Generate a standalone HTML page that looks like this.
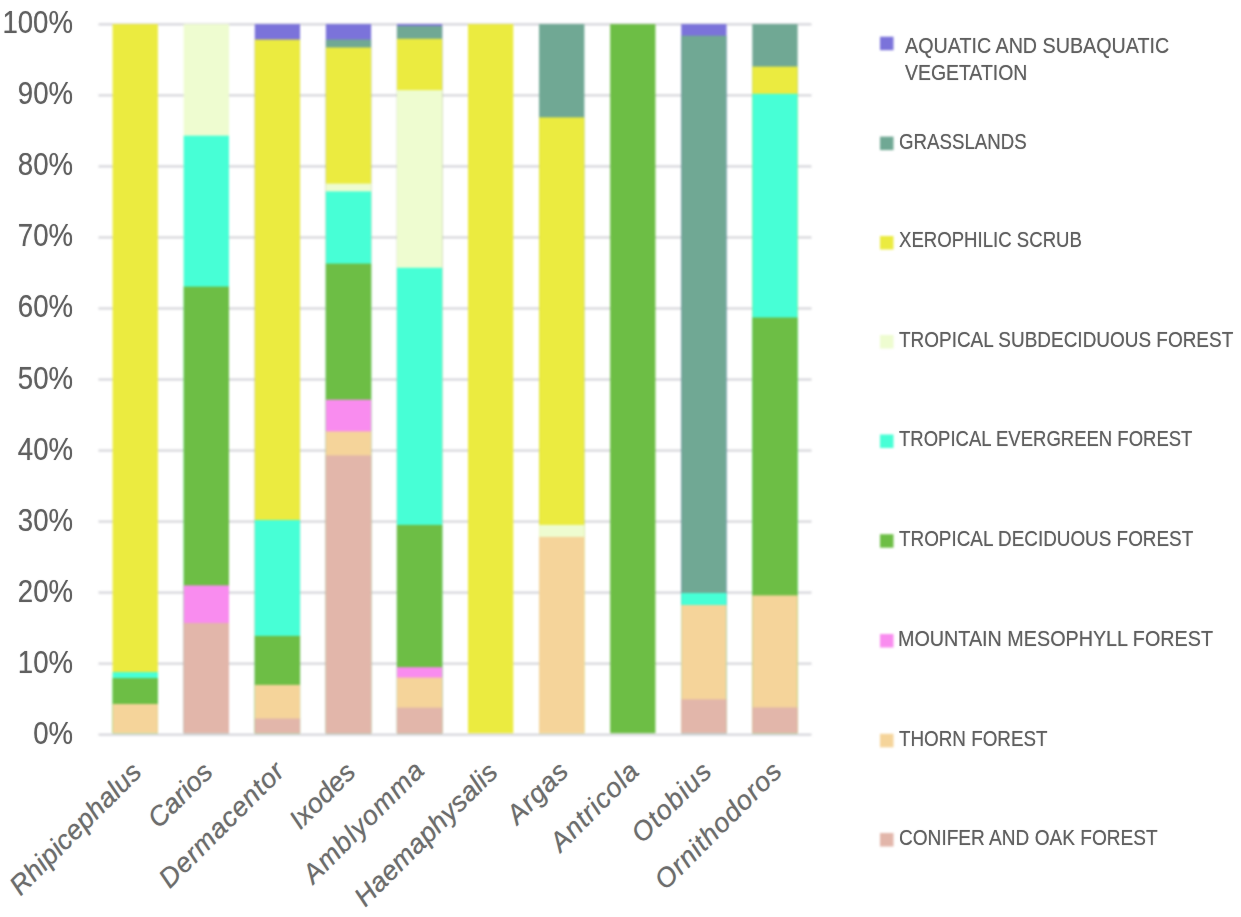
<!DOCTYPE html>
<html lang="en"><head><meta charset="utf-8"><title>Habitat distribution of tick genera</title>
<style>
html,body{margin:0;padding:0;background:#fff;}
body{width:1241px;height:917px;position:relative;overflow:hidden;font-family:"Liberation Sans",sans-serif;color:#606060;}
#sh{position:absolute;left:0;top:0;width:1241px;height:917px;filter:blur(1px);}
#tx{position:absolute;left:0;top:0;width:1241px;height:917px;}
.t{text-shadow:0 0 1px rgba(96,96,96,.6);}
.yl{position:absolute;right:1168px;font-size:30.5px;line-height:28px;white-space:nowrap;transform-origin:100% 50%;transform:scaleX(0.905);color:#606060;}
.xl{position:absolute;font-style:italic;font-size:27px;line-height:27px;white-space:nowrap;transform-origin:100% 0;transform:rotate(-45deg);color:#6c6c6c;}
.lt{position:absolute;font-size:22.5px;line-height:27px;white-space:nowrap;transform-origin:0 0;color:#606060;}
</style></head><body>
<svg id="sh" width="1241" height="917" viewBox="0 0 1241 917">
<rect x="98.5" y="23.35" width="713" height="2" fill="#d2d2d7"/>
<rect x="98.5" y="94.38" width="713" height="2" fill="#d2d2d7"/>
<rect x="98.5" y="165.41" width="713" height="2" fill="#d2d2d7"/>
<rect x="98.5" y="236.44" width="713" height="2" fill="#d2d2d7"/>
<rect x="98.5" y="307.47" width="713" height="2" fill="#d2d2d7"/>
<rect x="98.5" y="378.5" width="713" height="2" fill="#d2d2d7"/>
<rect x="98.5" y="449.53" width="713" height="2" fill="#d2d2d7"/>
<rect x="98.5" y="520.56" width="713" height="2" fill="#d2d2d7"/>
<rect x="98.5" y="591.59" width="713" height="2" fill="#d2d2d7"/>
<rect x="98.5" y="662.62" width="713" height="2" fill="#d2d2d7"/>
<rect x="98.5" y="733.65" width="713" height="2" fill="#d2d2d7"/>
<rect x="112.6" y="24.1" width="45.3" height="709.1" fill="#ebeb40"/>
<rect x="112.6" y="672.1" width="45.3" height="61.1" fill="#47ffd6"/>
<rect x="112.6" y="678.1" width="45.3" height="55.1" fill="#6dbe45"/>
<rect x="112.6" y="704" width="45.3" height="29.2" fill="#f5d49a"/>
<rect x="183.68" y="24.1" width="45.3" height="709.1" fill="#eefcd0"/>
<rect x="183.68" y="135.7" width="45.3" height="597.5" fill="#47ffd6"/>
<rect x="183.68" y="286.6" width="45.3" height="446.6" fill="#6dbe45"/>
<rect x="183.68" y="585.4" width="45.3" height="147.8" fill="#f98cef"/>
<rect x="183.68" y="623" width="45.3" height="110.2" fill="#e2b6aa"/>
<rect x="254.76" y="24.1" width="45.3" height="709.1" fill="#7b73da"/>
<rect x="254.76" y="39.6" width="45.3" height="693.6" fill="#ebeb40"/>
<rect x="254.76" y="520" width="45.3" height="213.2" fill="#47ffd6"/>
<rect x="254.76" y="635.9" width="45.3" height="97.3" fill="#6dbe45"/>
<rect x="254.76" y="684.9" width="45.3" height="48.3" fill="#f5d49a"/>
<rect x="254.76" y="718.5" width="45.3" height="14.7" fill="#e2b6aa"/>
<rect x="325.84" y="24.1" width="45.3" height="709.1" fill="#7b73da"/>
<rect x="325.84" y="39.6" width="45.3" height="693.6" fill="#70a894"/>
<rect x="325.84" y="47.5" width="45.3" height="685.7" fill="#ebeb40"/>
<rect x="325.84" y="183.6" width="45.3" height="549.6" fill="#eefcd0"/>
<rect x="325.84" y="191.4" width="45.3" height="541.8" fill="#47ffd6"/>
<rect x="325.84" y="263.6" width="45.3" height="469.6" fill="#6dbe45"/>
<rect x="325.84" y="399.7" width="45.3" height="333.5" fill="#f98cef"/>
<rect x="325.84" y="431.4" width="45.3" height="301.8" fill="#f5d49a"/>
<rect x="325.84" y="455.4" width="45.3" height="277.8" fill="#e2b6aa"/>
<rect x="396.92" y="24.1" width="45.3" height="709.1" fill="#7b73da"/>
<rect x="396.92" y="26" width="45.3" height="707.2" fill="#70a894"/>
<rect x="396.92" y="38.8" width="45.3" height="694.4" fill="#ebeb40"/>
<rect x="396.92" y="90.1" width="45.3" height="643.1" fill="#eefcd0"/>
<rect x="396.92" y="267.8" width="45.3" height="465.4" fill="#47ffd6"/>
<rect x="396.92" y="524.9" width="45.3" height="208.3" fill="#6dbe45"/>
<rect x="396.92" y="667.2" width="45.3" height="66" fill="#f98cef"/>
<rect x="396.92" y="677.6" width="45.3" height="55.6" fill="#f5d49a"/>
<rect x="396.92" y="707.6" width="45.3" height="25.6" fill="#e2b6aa"/>
<rect x="468" y="24.1" width="45.3" height="709.1" fill="#ebeb40"/>
<rect x="539.08" y="24.1" width="45.3" height="709.1" fill="#70a894"/>
<rect x="539.08" y="117.4" width="45.3" height="615.8" fill="#ebeb40"/>
<rect x="539.08" y="524.9" width="45.3" height="208.3" fill="#eefcd0"/>
<rect x="539.08" y="536.9" width="45.3" height="196.3" fill="#f5d49a"/>
<rect x="610.16" y="24.1" width="45.3" height="709.1" fill="#6dbe45"/>
<rect x="681.24" y="24.1" width="45.3" height="709.1" fill="#7b73da"/>
<rect x="681.24" y="35.7" width="45.3" height="697.5" fill="#70a894"/>
<rect x="681.24" y="593" width="45.3" height="140.2" fill="#47ffd6"/>
<rect x="681.24" y="605" width="45.3" height="128.2" fill="#f5d49a"/>
<rect x="681.24" y="699.3" width="45.3" height="33.9" fill="#e2b6aa"/>
<rect x="752.32" y="24.1" width="45.3" height="709.1" fill="#70a894"/>
<rect x="752.32" y="66.6" width="45.3" height="666.6" fill="#ebeb40"/>
<rect x="752.32" y="93.8" width="45.3" height="639.4" fill="#47ffd6"/>
<rect x="752.32" y="317.5" width="45.3" height="415.7" fill="#6dbe45"/>
<rect x="752.32" y="595.4" width="45.3" height="137.8" fill="#f5d49a"/>
<rect x="752.32" y="707.4" width="45.3" height="25.8" fill="#e2b6aa"/>
<rect x="880" y="36.7" width="13.5" height="13.5" fill="#7b73da"/>
<rect x="880" y="136.6" width="13.5" height="13.5" fill="#70a894"/>
<rect x="880" y="236" width="13.5" height="13.5" fill="#ebeb40"/>
<rect x="880" y="335" width="13.5" height="13.5" fill="#eefcd0"/>
<rect x="880" y="434.5" width="13.5" height="13.5" fill="#47ffd6"/>
<rect x="880" y="534.2" width="13.5" height="13.5" fill="#6dbe45"/>
<rect x="880" y="634" width="13.5" height="13.5" fill="#f98cef"/>
<rect x="880" y="733.8" width="13.5" height="13.5" fill="#f5d49a"/>
<rect x="880" y="833" width="13.5" height="13.5" fill="#e2b6aa"/>
</svg>
<div id="tx">
<div class="yl t" style="top:8.35px">100%</div>
<div class="yl t" style="top:79.38px">90%</div>
<div class="yl t" style="top:150.41px">80%</div>
<div class="yl t" style="top:221.44px">70%</div>
<div class="yl t" style="top:292.47px">60%</div>
<div class="yl t" style="top:363.5px">50%</div>
<div class="yl t" style="top:434.53px">40%</div>
<div class="yl t" style="top:505.56px">30%</div>
<div class="yl t" style="top:576.59px">20%</div>
<div class="yl t" style="top:647.62px">10%</div>
<div class="yl t" style="top:718.65px">0%</div>
<div class="xl t" style="right:1112.82px;top:757.77px;letter-spacing:0.32px">Rhipicephalus</div>
<div class="xl t" style="right:1041.88px;top:757.91px;letter-spacing:0.13px">Carios</div>
<div class="xl t" style="right:970.32px;top:757.43px;letter-spacing:0.81px">Dermacentor</div>
<div class="xl t" style="right:899.68px;top:757.87px;letter-spacing:0.18px">Ixodes</div>
<div class="xl t" style="right:830.25px;top:756.22px;letter-spacing:1.1px">Amblyomma</div>
<div class="xl t" style="right:757.36px;top:757.71px;letter-spacing:0.41px">Haemaphysalis</div>
<div class="xl t" style="right:685.97px;top:757.4px;letter-spacing:0.85px">Argas</div>
<div class="xl t" style="right:615.42px;top:757.33px;letter-spacing:0.95px">Antricola</div>
<div class="xl t" style="right:542.58px;top:757.17px;letter-spacing:1.18px">Otobius</div>
<div class="xl t" style="right:472.66px;top:757.33px;letter-spacing:0.95px">Ornithodoros</div>
<div class="lt t" style="left:905px;top:32.2px;transform:scaleX(0.8757)">AQUATIC AND SUBAQUATIC</div>
<div class="lt t" style="left:905px;top:59.2px;transform:scaleX(0.8629)">VEGETATION</div>
<div class="lt t" style="left:899.17px;top:127.5px;transform:scaleX(0.8303)">GRASSLANDS</div>
<div class="lt t" style="left:899.17px;top:226px;transform:scaleX(0.8265)">XEROPHILIC SCRUB</div>
<div class="lt t" style="left:899.16px;top:325.8px;transform:scaleX(0.8425)">TROPICAL SUBDECIDUOUS FOREST</div>
<div class="lt t" style="left:899.18px;top:425.3px;transform:scaleX(0.8225)">TROPICAL EVERGREEN FOREST</div>
<div class="lt t" style="left:899.16px;top:525px;transform:scaleX(0.8395)">TROPICAL DECIDUOUS FOREST</div>
<div class="lt t" style="left:898.24px;top:624.7px;transform:scaleX(0.8778)">MOUNTAIN MESOPHYLL FOREST</div>
<div class="lt t" style="left:899.16px;top:724.5px;transform:scaleX(0.8369)">THORN FOREST</div>
<div class="lt t" style="left:899.15px;top:823.7px;transform:scaleX(0.8480)">CONIFER AND OAK FOREST</div>
</div>
</body></html>
